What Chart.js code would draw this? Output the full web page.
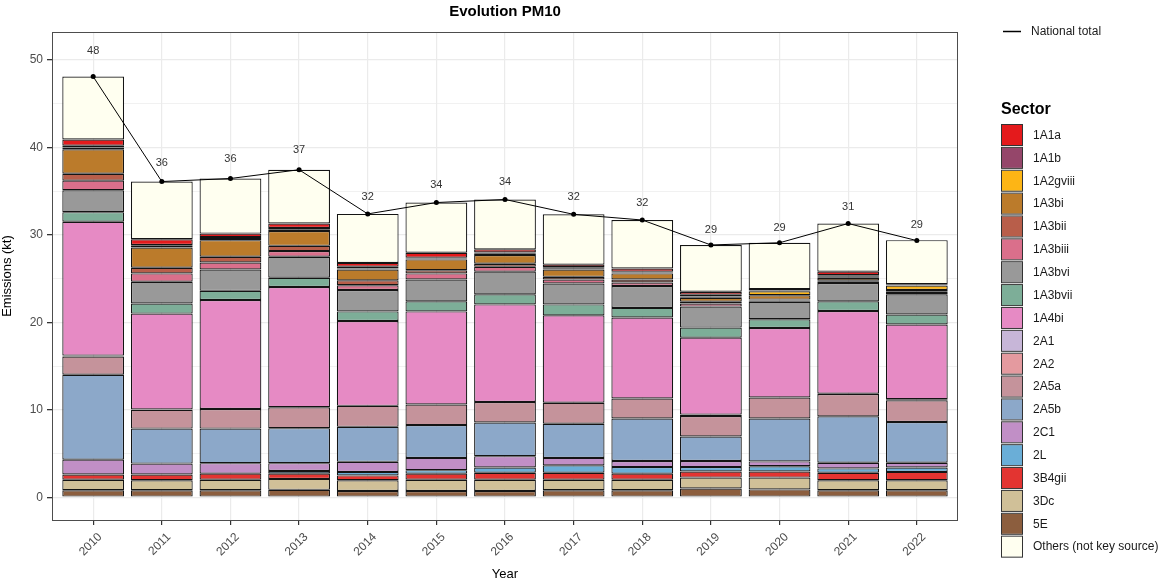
<!DOCTYPE html>
<html>
<head>
<meta charset="utf-8">
<title>Evolution PM10</title>
<script src="https://cdn.jsdelivr.net/npm/chart.js@4/dist/chart.umd.min.js"></script>
<style>
  html, body { margin: 0; padding: 0; background: #fff; }
  #wrap { width: 1173px; height: 584px; }
</style>
</head>
<body>
<div id="wrap"><canvas id="pm10Graph" width="1173" height="584"></canvas></div>
<script>
const years = [2010, 2011, 2012, 2013, 2014, 2015, 2016, 2017, 2018, 2019, 2020, 2021, 2022];
const yTicks = [0, 5, 10, 15, 20, 25, 30, 35, 40, 45, 50];

// legend order (top of the stack first)
const sectors = ['1A1a', '1A1b', '1A2gviii', '1A3bi', '1A3bii', '1A3biii', '1A3bvi', '1A3bvii',
  '1A4bi', '2A1', '2A2', '2A5a', '2A5b', '2C1', '2L', '3B4gii', '3Dc', '5E', 'Others (not key source)'];

const sectorColors = ['#E41A1C', '#95466A', '#FDB515', '#BB7B2B', '#B85E4A', '#DA6F8B', '#999999', '#7DAE98',
  '#E68AC4', '#C7B6D8', '#E49A9F', '#C5939B', '#8CA8C9', '#C18FC6', '#6AAED7', '#E33431', '#D0C098', '#8C5E3E', '#FFFFF0'];

// emissions per sector (kt), 2010..2022
const v1A1a     = [0.7, 0.65, 0.4, 0.5, 0.45, 0.55, 0.35, 0.3, 0.35, 0.35, 0.15, 0.4, 0.1];
const v1A1b     = [0.2, 0.1, 0.1, 0.15, 0.2, 0.1, 0.15, 0.1, 0.1, 0.2, 0.1, 0.2, 0.05];
const v1A2gviii = [0.2, 0.2, 0.25, 0.2, 0.1, 0.1, 0.15, 0.15, 0.1, 0.15, 0.45, 0.1, 0.5];
const v1A3bi    = [2.8, 2.3, 1.9, 1.7, 1.25, 1.25, 1.0, 0.85, 0.7, 0.45, 0.5, 0.3, 0.2];
const v1A3bii   = [0.8, 0.65, 0.65, 0.6, 0.55, 0.35, 0.35, 0.3, 0.35, 0.2, 0.1, 0.15, 0.15];
const v1A3biii  = [1.1, 0.95, 0.8, 0.65, 0.55, 0.7, 0.55, 0.45, 0.4, 0.35, 0.15, 0.15, 0.15];
const v1A3bvi   = [2.5, 2.5, 2.45, 2.4, 2.45, 2.5, 2.6, 2.4, 2.5, 2.4, 2.0, 2.1, 2.3];
const v1A3bvii  = [1.1, 1.15, 1.05, 1.05, 1.1, 1.15, 1.15, 1.25, 1.1, 1.15, 1.0, 1.1, 1.15];
const v1A4bi    = [15.3, 10.95, 12.45, 13.75, 9.7, 10.65, 11.15, 10.0, 9.25, 8.8, 7.95, 9.45, 8.55];
const v2A1      = [0, 0, 0, 0, 0, 0, 0, 0, 0, 0.15, 0, 0.05, 0.1];
const v2A2      = [0.1, 0.05, 0, 0, 0, 0, 0, 0, 0, 0, 0, 0, 0];
const v2A5a     = [2.1, 2.15, 2.25, 2.4, 2.4, 2.35, 2.35, 2.4, 2.3, 2.35, 2.4, 2.55, 2.5];
const v2A5b     = [9.7, 4.0, 3.95, 4.0, 4.0, 3.75, 3.85, 3.9, 4.85, 2.8, 4.9, 5.3, 4.65];
const v2C1      = [1.7, 1.25, 1.2, 0.9, 1.15, 1.4, 1.3, 0.85, 0.7, 0.7, 0.55, 0.65, 0.55];
const v2L       = [0, 0, 0, 0.3, 0.4, 0.4, 0.6, 0.85, 0.75, 0.5, 0.6, 0.5, 0.5];
const v3B4gii   = [0.6, 0.65, 0.7, 0.6, 0.55, 0.7, 0.8, 0.8, 0.7, 0.7, 0.7, 0.85, 0.95];
const v3Dc      = [1.2, 1.15, 1.2, 1.25, 1.23, 1.28, 1.28, 1.2, 1.2, 1.25, 1.35, 1.15, 1.15];
const v5E       = [0.8, 0.8, 0.8, 0.85, 0.72, 0.72, 0.72, 0.8, 0.8, 1.0, 0.9, 0.8, 0.8];
const vOthers   = [7.2, 6.6, 6.3, 6.15, 5.6, 5.75, 5.7, 5.75, 5.55, 5.35, 5.3, 5.5, 5.05];

const nationalTotal = [48.1, 36.1, 36.45, 37.45, 32.4, 33.7, 34.05, 32.35, 31.7, 28.85, 29.1, 31.3, 29.35];

const sectorValues = [v1A1a, v1A1b, v1A2gviii, v1A3bi, v1A3bii, v1A3biii, v1A3bvi, v1A3bvii,
  v1A4bi, v2A1, v2A2, v2A5a, v2A5b, v2C1, v2L, v3B4gii, v3Dc, v5E, vOthers];

const FONT = '"Liberation Sans", Arial, sans-serif';

// ggplot stacks the first level on top, so build the bars bottom-up (5E first, Others last on top)
function buildBarDatasets() {
  const order = [17, 16, 15, 14, 13, 12, 11, 10, 9, 8, 7, 6, 5, 4, 3, 2, 1, 0, 18];
  return order.map(i => ({
    type: 'bar',
    label: sectors[i],
    data: years.map((yr, j) => ({ x: yr, y: sectorValues[i][j] })),
    backgroundColor: sectorColors[i],
    borderColor: '#141414',
    borderWidth: 1.2,
    borderSkipped: false,
    barPercentage: 0.9,
    categoryPercentage: 1.0,
    order: 1
  }));
}

const totalDataset = {
  type: 'line',
  label: 'National total',
  data: years.map((yr, j) => ({ x: yr, y: nationalTotal[j] })),
  borderColor: '#000000',
  backgroundColor: '#000000',
  borderWidth: 1,
  pointRadius: 2.5,
  pointBackgroundColor: '#000000',
  pointBorderWidth: 0,
  stack: 'total',
  order: 0
};

const decorPlugin = {
  id: 'decor',
  afterDatasetsDraw(chart) {
    const ctx = chart.ctx;
    const xs = chart.scales.x, ys = chart.scales.y;
    ctx.save();
    ctx.font = '11px ' + FONT;
    ctx.fillStyle = '#333333';
    ctx.textAlign = 'center';
    ctx.textBaseline = 'middle';
    years.forEach((yr, j) => {
      ctx.fillText(String(Math.round(nationalTotal[j])), xs.getPixelForValue(yr), ys.getPixelForValue(nationalTotal[j] * 1.06));
    });
    ctx.restore();
  },
  afterDraw(chart) {
    const ctx = chart.ctx;
    const a = chart.chartArea;
    ctx.save();
    // panel border
    ctx.strokeStyle = '#4d4d4d';
    ctx.lineWidth = 1;
    ctx.strokeRect(a.left + 0.5, a.top + 0.5, a.right - a.left - 1, a.bottom - a.top);

    // title
    ctx.fillStyle = '#000000';
    ctx.font = 'bold 15px ' + FONT;
    ctx.textAlign = 'center';
    ctx.textBaseline = 'middle';
    ctx.fillText('Evolution PM10', (a.left + a.right) / 2, 12);

    // line legend
    ctx.strokeStyle = '#000000';
    ctx.lineWidth = 1.5;
    ctx.beginPath();
    ctx.moveTo(1003, 31.5);
    ctx.lineTo(1021, 31.5);
    ctx.stroke();
    ctx.font = '12px ' + FONT;
    ctx.textAlign = 'left';
    ctx.fillStyle = '#1a1a1a';
    ctx.fillText('National total', 1031, 31.5);

    // sector legend
    ctx.font = 'bold 16px ' + FONT;
    ctx.fillStyle = '#000000';
    ctx.fillText('Sector', 1001, 110);
    ctx.font = '12px ' + FONT;
    const top0 = 125, pitch = 22.87;
    sectors.forEach((s, i) => {
      const y = top0 + i * pitch;
      ctx.fillStyle = sectorColors[i];
      ctx.fillRect(1002, y, 20, 20);
      ctx.strokeStyle = '#333333';
      ctx.lineWidth = 1;
      ctx.strokeRect(1001.5, y - 0.5, 21, 21);
      ctx.fillStyle = '#1a1a1a';
      ctx.fillText(s, 1033, y + 10.5);
    });
    ctx.restore();
  }
};

let pm10Graph;

function createPm10Graph() {
  const ctxPm10 = document.getElementById('pm10Graph').getContext('2d');
  return new Chart(ctxPm10, {
    data: {
      datasets: [...buildBarDatasets(), totalDataset]
    },
    options: {
      responsive: false,
      animation: false,
      layout: {
        padding: { top: 32, right: 215, left: 0, bottom: 0 }
      },
      plugins: {
        legend: { display: false },
        title: { display: false },
        tooltip: { enabled: false }
      },
      scales: {
        x: {
          type: 'linear',
          stacked: true,
          offset: false,
          min: 2009.4,
          max: 2022.6,
          afterBuildTicks: axis => { axis.ticks = years.map(v => ({ value: v })); },
          afterFit: axis => { axis.height = 64; },
          grid: {
            offset: false,
            color: '#EBEBEB',
            lineWidth: 1.2,
            drawTicks: true,
            tickLength: 5,
            tickColor: '#333333'
          },
          border: { display: false },
          ticks: {
            minRotation: 45,
            maxRotation: 45,
            padding: 5,
            labelOffset: 7,
            color: '#4d4d4d',
            font: { family: FONT, size: 12 },
            callback: v => String(v)
          },
          title: {
            display: true,
            text: 'Year',
            color: '#000000',
            font: { family: FONT, size: 13 },
            padding: { top: 0, bottom: 2 }
          }
        },
        y: {
          stacked: true,
          min: -2.6,
          max: 53.2,
          afterBuildTicks: axis => { axis.ticks = yTicks.map(v => ({ value: v })); },
          afterFit: axis => { axis.width = 52; },
          grid: {
            color: '#EBEBEB',
            lineWidth: c => (c.tick && c.tick.value % 10 === 0 ? 1.3 : 0.7),
            drawTicks: true,
            tickLength: 5,
            tickColor: c => (c.tick && c.tick.value % 10 === 0 ? '#333333' : 'rgba(0,0,0,0)')
          },
          border: { display: false },
          ticks: {
            padding: 4,
            color: '#4d4d4d',
            font: { family: FONT, size: 12 },
            callback: v => (v % 10 === 0 ? String(v) : '')
          },
          title: {
            display: true,
            text: 'Emissions (kt)',
            color: '#000000',
            font: { family: FONT, size: 13 },
            padding: { top: 0, bottom: 0 }
          }
        }
      }
    },
    plugins: [decorPlugin]
  });
}

document.addEventListener('DOMContentLoaded', () => {
  pm10Graph = createPm10Graph();
});
</script>
</body>
</html>
